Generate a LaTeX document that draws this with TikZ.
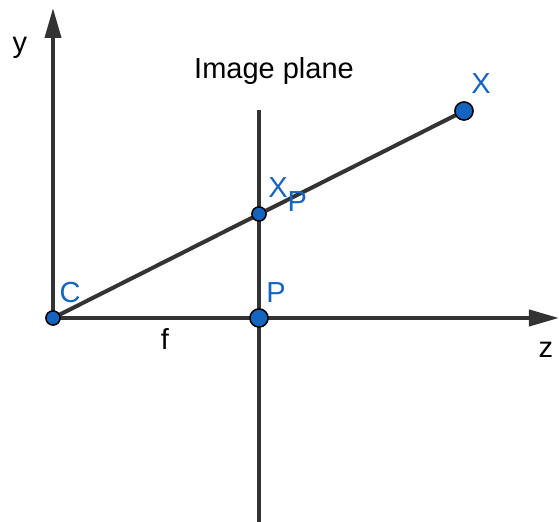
\documentclass[tikz,border=0pt]{standalone}
\usepackage{fontspec}
\setmainfont{Liberation Sans}
\usetikzlibrary{arrows.meta, positioning}
\definecolor{ptblue}{HTML}{1565C0}
\definecolor{linegray}{HTML}{333333}
\tikzstyle{axis} = [line width=2pt, draw=linegray, -{Triangle[length=15pt,width=8pt]}]
\tikzstyle{ray} = [line width=2pt, draw=linegray]
\tikzstyle{bigpt} = [circle, draw=black, fill=ptblue, line width=0.7pt, minimum size=9pt, inner sep=0pt]
\tikzstyle{smallpt} = [circle, draw=black, fill=ptblue, line width=0.7pt, minimum size=7pt, inner sep=0pt]
\tikzstyle{ptlabel} = [text=ptblue, inner sep=0pt, anchor=base, font=\fontsize{14.5}{17}\selectfont]
\tikzstyle{axlabel} = [text=black, inner sep=0pt, anchor=base, font=\fontsize{14.5}{17}\selectfont]

\begin{document}
\begin{tikzpicture}[x=0.5pt, y=-0.5pt]
    \useasboundingbox (0,0) rectangle (559,522);

    % axes and image plane
    \coordinate (ytop) at (53,8);
    \coordinate (zend) at (559,318);
    \coordinate (planetop) at (259,110);
    \coordinate (planebot) at (259,522);

    \node (C) [smallpt] at (53,318) {};
    \node (P) [bigpt] at (259,318) {};
    \node (Xp) [smallpt] at (259,214) {};
    \node (X) [bigpt] at (464,111) {};

    \draw [ray] (planetop) -- (planebot);
    \draw [axis] (C.center) -- (ytop);
    \draw [axis] (C.center) -- (zend);
    \draw [ray] (C.center) -- (X.center);

    % redraw points on top
    \node [smallpt] at (C) {};
    \node [bigpt] at (P) {};
    \node [smallpt] at (Xp) {};
    \node [bigpt] at (X) {};

    % labels
    \node (ylbl) [axlabel] at (20,53) {y};
    \node (zlbl) [axlabel] at (546,358) {z};
    \node (flbl) [axlabel] at (165,350) {f};
    \node (planelbl) [axlabel] at (274,79) {Image plane};
    \node (Clbl) [ptlabel] at (70,303) {C};
    \node (Plbl) [ptlabel] at (276,303) {P};
    \node (Xlbl) [ptlabel] at (481,94) {X};
    \node (Xplbl) [ptlabel, anchor=base west] at (268,198) {X\raisebox{-7pt}{P}};
\end{tikzpicture}
\end{document}
